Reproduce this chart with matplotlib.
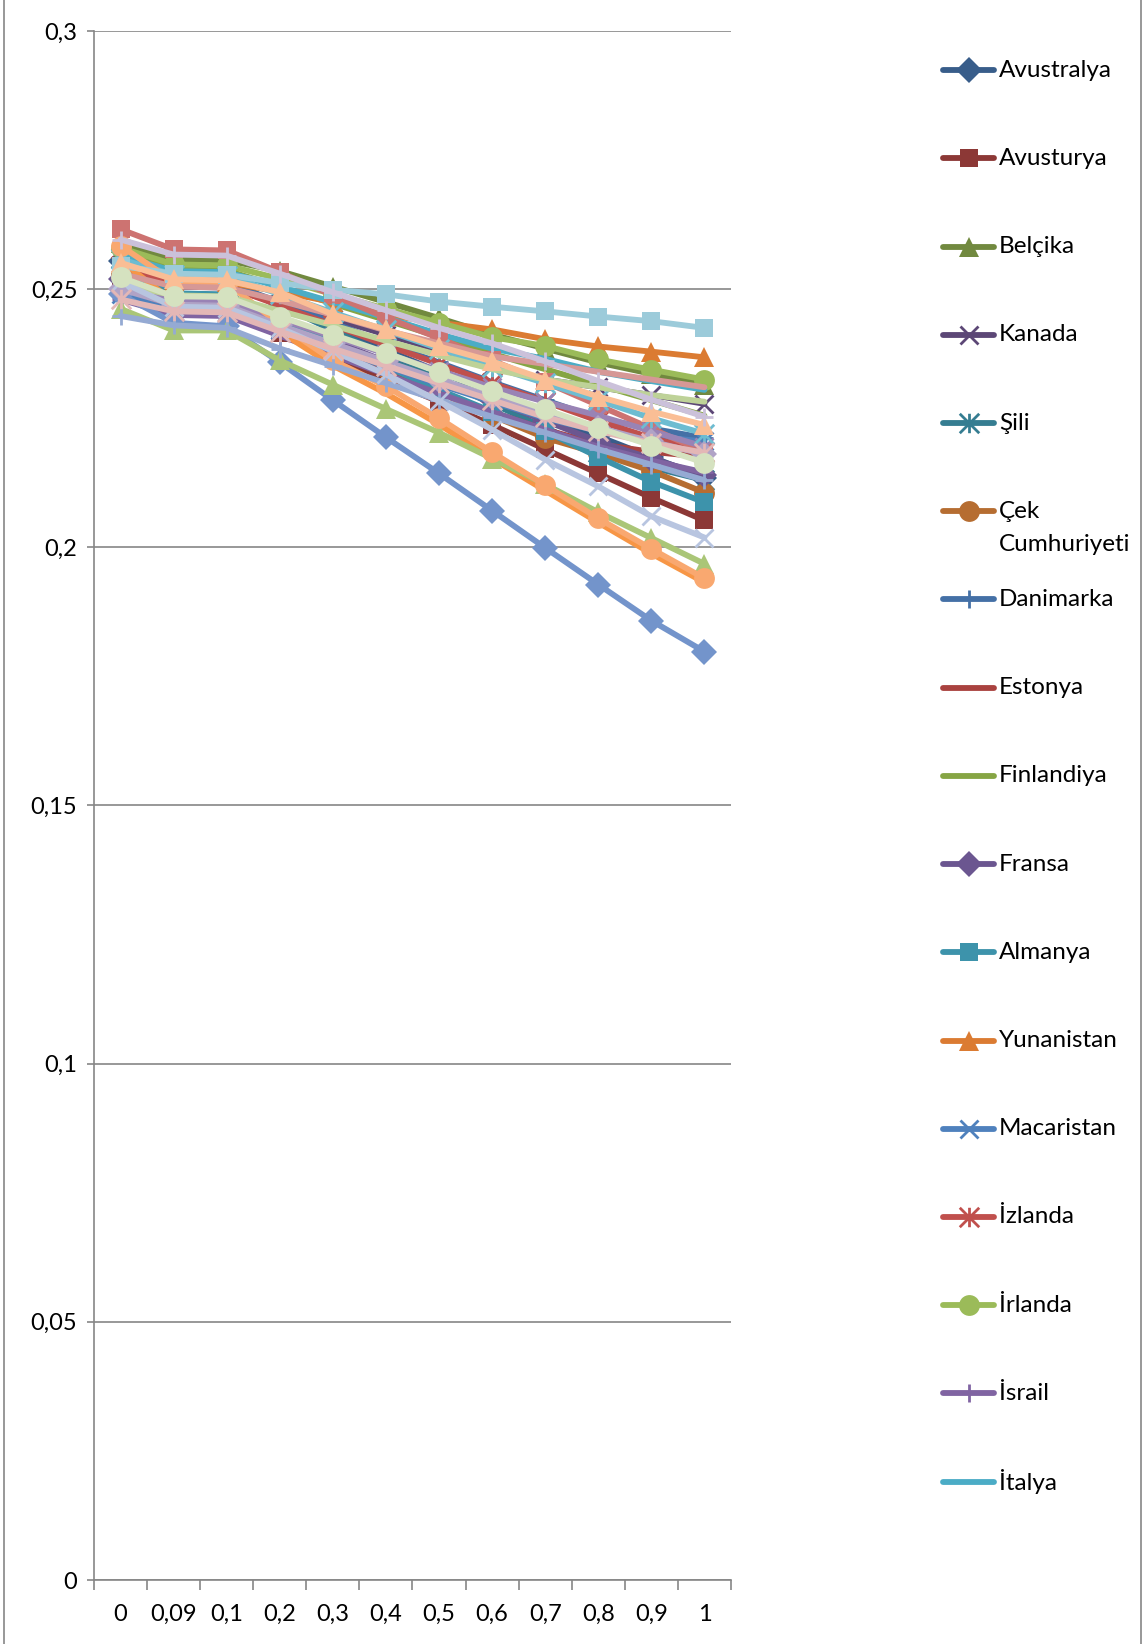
import numpy as np
import matplotlib
matplotlib.use("Agg")
import matplotlib.pyplot as plt
from matplotlib.path import Path
from matplotlib.lines import Line2D

plt.rcParams['font.family'] = ['Lato', 'DejaVu Sans']

categories = ['0', '0,09', '0,1', '0,2', '0,3', '0,4', '0,5', '0,6', '0,7', '0,8', '0,9', '1']

countries = ['Avustralya', 'Avusturya', 'Belçika', 'Kanada', 'Şili', 'Çek Cumhuriyeti',
             'Danimarka', 'Estonya', 'Finlandiya', 'Fransa', 'Almanya', 'Yunanistan',
             'Macaristan', 'İzlanda', 'İrlanda', 'İsrail', 'İtalya', 'Japonya', 'Kore',
             'Lüksemburg', 'Meksika', 'Hollanda', 'Yeni Zelanda', 'Norveç', 'Polonya',
             'Portekiz', 'Slovakya', 'Slovenya', 'İspanya', 'İsveç', 'İsviçre', 'Türkiye',
             'Birleşik Krallık', 'ABD']

avustralya = [0.2555, 0.2515, 0.2512, 0.2468, 0.2425, 0.2383, 0.2340, 0.2298, 0.2255, 0.2215, 0.2175, 0.2135]
avusturya = [0.2505, 0.2465, 0.2462, 0.2415, 0.2370, 0.2325, 0.2282, 0.2237, 0.2190, 0.2143, 0.2096, 0.2052]
belcika = [0.2590, 0.2558, 0.2556, 0.2535, 0.2505, 0.2475, 0.2444, 0.2412, 0.2385, 0.2358, 0.2336, 0.2315]
kanada = [0.2540, 0.2505, 0.2503, 0.2472, 0.2443, 0.2412, 0.2382, 0.2352, 0.2325, 0.2310, 0.2295, 0.2278]
sili = [0.2560, 0.2520, 0.2518, 0.2470, 0.2420, 0.2373, 0.2325, 0.2278, 0.2232, 0.2185, 0.2155, 0.2130]
cek = [0.2530, 0.2490, 0.2488, 0.2440, 0.2392, 0.2347, 0.2300, 0.2255, 0.2212, 0.2182, 0.2148, 0.2106]
danimarka = [0.2550, 0.2515, 0.2512, 0.2475, 0.2435, 0.2395, 0.2358, 0.2320, 0.2285, 0.2250, 0.2230, 0.2212]
estonya = [0.2500, 0.2462, 0.2460, 0.2420, 0.2380, 0.2340, 0.2300, 0.2262, 0.2228, 0.2200, 0.2185, 0.2175]
finlandiya = [0.2570, 0.2538, 0.2536, 0.2505, 0.2472, 0.2440, 0.2408, 0.2375, 0.2345, 0.2315, 0.2285, 0.2255]
fransa = [0.2520, 0.2485, 0.2483, 0.2440, 0.2400, 0.2360, 0.2322, 0.2285, 0.2245, 0.2205, 0.2172, 0.2140]
almanya = [0.2535, 0.2492, 0.2490, 0.2445, 0.2395, 0.2350, 0.2305, 0.2263, 0.2225, 0.2175, 0.2127, 0.2087]
yunanistan = [0.2540, 0.2515, 0.2513, 0.2495, 0.2475, 0.2450, 0.2435, 0.2422, 0.2403, 0.2389, 0.2379, 0.2368]
macaristan = [0.2490, 0.2458, 0.2456, 0.2420, 0.2385, 0.2350, 0.2315, 0.2282, 0.2250, 0.2225, 0.2215, 0.2205]
izlanda = [0.2545, 0.2508, 0.2506, 0.2468, 0.2430, 0.2392, 0.2355, 0.2318, 0.2282, 0.2245, 0.2212, 0.2185]
irlanda = [0.2580, 0.2548, 0.2546, 0.2520, 0.2490, 0.2462, 0.2435, 0.2407, 0.2390, 0.2364, 0.2344, 0.2325]
israil = [0.2480, 0.2450, 0.2448, 0.2410, 0.2372, 0.2335, 0.2298, 0.2262, 0.2228, 0.2195, 0.2168, 0.2145]
italya = [0.2565, 0.2535, 0.2533, 0.2505, 0.2475, 0.2445, 0.2413, 0.2385, 0.2365, 0.2340, 0.2322, 0.2305]
japonya = [0.2555, 0.2476, 0.2474, 0.2418, 0.2352, 0.2298, 0.2238, 0.2172, 0.2110, 0.2048, 0.1988, 0.1932]
kore = [0.2490, 0.2435, 0.2428, 0.2358, 0.2285, 0.2213, 0.2143, 0.2071, 0.1999, 0.1928, 0.1858, 0.1798]
luksemburg = [0.2616, 0.2577, 0.2575, 0.2533, 0.2488, 0.2445, 0.2405, 0.2362, 0.2320, 0.2275, 0.2230, 0.2185]
meksika = [0.2462, 0.2420, 0.2420, 0.2362, 0.2315, 0.2268, 0.2222, 0.2172, 0.2122, 0.2068, 0.2018, 0.1968]
hollanda = [0.2510, 0.2478, 0.2476, 0.2442, 0.2408, 0.2375, 0.2342, 0.2310, 0.2282, 0.2255, 0.2225, 0.2195]
yeni_zelanda = [0.2558, 0.2528, 0.2526, 0.2490, 0.2455, 0.2420, 0.2385, 0.2350, 0.2318, 0.2285, 0.2250, 0.2220]
norvec = [0.2584, 0.2515, 0.2512, 0.2432, 0.2362, 0.2312, 0.2250, 0.2184, 0.2120, 0.2056, 0.1997, 0.1940]
polonya = [0.2448, 0.2430, 0.2425, 0.2385, 0.2352, 0.2318, 0.2285, 0.2253, 0.2222, 0.2190, 0.2160, 0.2130]
portekiz = [0.2530, 0.2505, 0.2503, 0.2478, 0.2450, 0.2420, 0.2395, 0.2370, 0.2355, 0.2340, 0.2325, 0.2310]
slovakya = [0.2510, 0.2488, 0.2486, 0.2458, 0.2430, 0.2400, 0.2372, 0.2345, 0.2325, 0.2310, 0.2295, 0.2282]
slovenya = [0.2500, 0.2470, 0.2468, 0.2430, 0.2395, 0.2360, 0.2325, 0.2292, 0.2262, 0.2232, 0.2205, 0.2180]
ispanya = [0.2545, 0.2530, 0.2528, 0.2512, 0.2499, 0.2490, 0.2476, 0.2466, 0.2457, 0.2447, 0.2438, 0.2425]
isvec = [0.2551, 0.2519, 0.2517, 0.2494, 0.2451, 0.2422, 0.2389, 0.2360, 0.2325, 0.2292, 0.2263, 0.2237]
isvicre = [0.2515, 0.2466, 0.2464, 0.2425, 0.2380, 0.2335, 0.2283, 0.2228, 0.2170, 0.2118, 0.2060, 0.2019]
turkiye = [0.2480, 0.2457, 0.2455, 0.2418, 0.2385, 0.2352, 0.2318, 0.2285, 0.2252, 0.2225, 0.2202, 0.2183]
birlesik_krallik = [0.2523, 0.2486, 0.2485, 0.2447, 0.2412, 0.2377, 0.2339, 0.2302, 0.2267, 0.2232, 0.2197, 0.2164]
abd = [0.2596, 0.2567, 0.2565, 0.2530, 0.2494, 0.2459, 0.2425, 0.2395, 0.2360, 0.2322, 0.2286, 0.2253]

series = [avustralya, avusturya, belcika, kanada, sili, cek, danimarka, estonya, finlandiya,
          fransa, almanya, yunanistan, macaristan, izlanda, irlanda, israil, italya, japonya,
          kore, luksemburg, meksika, hollanda, yeni_zelanda, norvec, polonya, portekiz,
          slovakya, slovenya, ispanya, isvec, isvicre, turkiye, birlesik_krallik, abd]

# Excel style shades: dark -> normal -> light
colors = ['#385D8A', '#8C3836', '#71893F', '#5C4776', '#357D91', '#B66D31',
          '#4470A6', '#A9423F', '#86A544', '#6B5690', '#3D93AB', '#DB7B32',
          '#4F81BD', '#C0504D', '#9BBB59', '#8064A2', '#4BACC6', '#F79646',
          '#7394CB', '#CD7371', '#AAC677', '#9983B5', '#6DBCD1', '#F9A870',
          '#95AAD3', '#D69896', '#BED298', '#B0A3C6', '#9CCBDA', '#FABE95',
          '#B8C5E0', '#E3B7B6', '#D5E2C0', '#CBC1DA']

star = Path([(-1, -1), (1, 1), (-1, 1), (1, -1), (0, -1), (0, 1)],
            [Path.MOVETO, Path.LINETO] * 3)
marker_cycle = ['D', 's', '^', 'x', star, 'o', '+', None, None]


def marker_style(i):
    m = marker_cycle[i % 9]
    if m is None:
        return {}
    if m in ('x', '+'):
        return dict(marker=m, markersize=13, markeredgewidth=2.0)
    if m is star:
        return dict(marker=m, markersize=14, markeredgewidth=2.0, markerfacecolor='none')
    size = {'D': 13, 's': 13, '^': 14, 'o': 15}[m]
    return dict(marker=m, markersize=size, markeredgewidth=0)


W, H = 1143, 1644
fig = plt.figure(figsize=(W / 100, H / 100), dpi=100)
ax = fig.add_axes([94 / W, 1 - 1580 / H, (731 - 94) / W, (1580 - 31) / H])

x = np.arange(len(categories))
grid_c = '#868686'
for i, vals in enumerate(series):
    ax.plot(x, vals, color=colors[i], linewidth=4.2, solid_capstyle='round',
            zorder=3 + i * 0.01, **marker_style(i))

ax.set_xlim(-0.5, len(categories) - 0.5)
ax.set_ylim(0, 0.3)
yt = [0, 0.05, 0.1, 0.15, 0.2, 0.25, 0.3]
ax.set_yticks(yt)
ax.set_yticklabels(['0', '0,05', '0,1', '0,15', '0,2', '0,25', '0,3'])
ax.yaxis.grid(True, color=grid_c, linewidth=1.2)
ax.set_axisbelow(True)
ax.tick_params(axis='y', length=5, width=1.2, color=grid_c, pad=7, labelsize=17)

ax.set_xticks(np.arange(-0.5, len(categories), 1.0))
ax.set_xticklabels([])
ax.set_xticks(x, minor=True)
ax.set_xticklabels(categories, minor=True)
ax.tick_params(axis='x', which='major', length=7, width=1.2, color=grid_c)
ax.tick_params(axis='x', which='minor', length=0, pad=17, labelsize=17)

for s in ['top', 'right']:
    ax.spines[s].set_visible(False)
for s in ['left', 'bottom']:
    ax.spines[s].set_color(grid_c)
    ax.spines[s].set_linewidth(1.2)

# legend (only the first 17 entries fit in the chart area)
leg = fig.add_axes([0, 0, 1, 1])
leg.set_xlim(0, W)
leg.set_ylim(H, 0)
leg.axis('off')
for i in range(17):
    yc = 70.3 + 88.2 * i
    leg.add_line(Line2D([943, 994], [yc, yc], color=colors[i], linewidth=4.2,
                        solid_capstyle='round'))
    leg.add_line(Line2D([968.5], [yc], color=colors[i], linewidth=0, **marker_style(i)))
    name = countries[i]
    if name == 'Çek Cumhuriyeti':
        leg.text(999, yc, 'Çek', va='center', ha='left', fontsize=17.5)
        leg.text(999, yc + 33, 'Cumhuriyeti', va='center', ha='left', fontsize=17.5)
    else:
        leg.text(999, yc, name, va='center', ha='left', fontsize=17.5)

# chart area border
leg.plot([3.5, 3.5], [0, H], color=grid_c, linewidth=1.2)
leg.plot([1141, 1141], [0, H], color=grid_c, linewidth=1.2)

fig.savefig('out.png', dpi=100, facecolor='white')
